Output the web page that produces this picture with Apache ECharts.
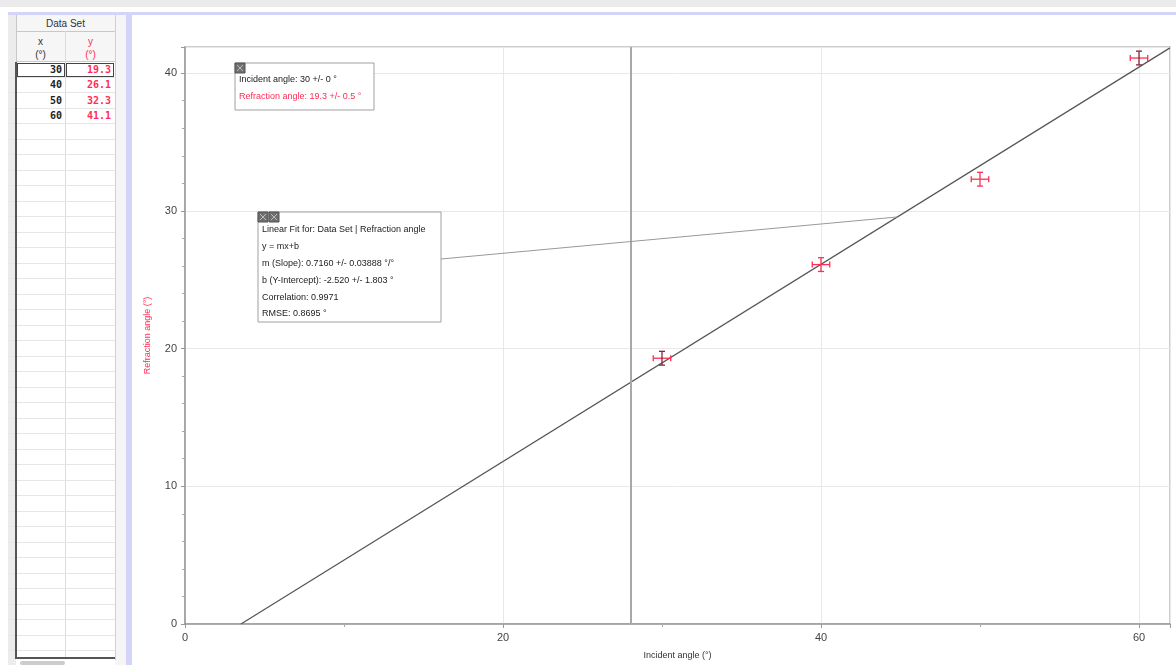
<!DOCTYPE html>
<html>
<head>
<meta charset="utf-8">
<script src="https://cdn.jsdelivr.net/npm/echarts@6/dist/echarts.min.js"></script>
<style>
  body { margin:0; width:1176px; height:665px; overflow:hidden; background:#fff; position:relative; font-family:"Liberation Sans", Arial, sans-serif; }
  .abs { position:absolute; }
  #chart { position:absolute; left:131px; top:15px; width:1045px; height:650px; }
  .cell { position:absolute; font:bold 10px "DejaVu Sans Mono", monospace; text-align:right; line-height:14px; }
  .hd { position:absolute; font-size:10px; text-align:center; color:#333; }
</style>
</head>
<body>
<div class="abs" style="left:0;top:0;width:1176px;height:7px;background:#ebebeb"></div>
<div class="abs" style="left:8px;top:12px;width:1168px;height:3px;background:#d4d4fa"></div>
<div class="abs" style="left:126px;top:12px;width:6px;height:653px;background:#d4d4fa"></div>
<div class="abs" style="left:8px;top:15px;width:8px;height:650px;background:#ececec"></div>
<div class="abs" style="left:115px;top:15px;width:11px;height:650px;background:#f5f5f5"></div>
<div class="abs" style="left:16px;top:15px;width:99px;height:47px;background:#f6f6f6"></div>
<div class="abs" style="left:16px;top:31px;width:99px;height:1px;background:#c8c8c8"></div>
<div class="abs" style="left:16px;top:61px;width:99px;height:1px;background:#c8c8c8"></div>
<div class="abs" style="left:65px;top:31px;width:1px;height:627px;background:#dcdcdc"></div>
<div class="abs" style="left:115px;top:15px;width:1px;height:645px;background:#d0d0d0"></div>
<div class="abs" style="left:16px;top:15px;width:1px;height:47px;background:#c8c8c8"></div>
<div id="rows"></div>
<div class="abs" style="left:15px;top:62px;width:2px;height:597px;background:#555"></div>
<div class="abs" style="left:15px;top:657px;width:100px;height:2px;background:#555"></div>
<div class="abs" style="left:20px;top:661px;width:45px;height:4px;background:#ccc;border-radius:2px"></div>
<div class="hd" style="left:16px;top:18px;width:99px">Data Set</div>
<div class="hd" style="left:16px;top:36px;width:49px">x</div>
<div class="hd" style="left:16px;top:49px;width:49px">(°)</div>
<div class="hd" style="left:66px;top:36px;width:49px;color:#ff2d55">y</div>
<div class="hd" style="left:66px;top:49px;width:49px;color:#ff2d55">(°)</div>
<div id="chart"></div>
<script>
// 数据
var xValues = [30, 40, 50, 60];
var yValues = [19.3, 26.1, 32.3, 41.1];
var xErr = [0.55, 0.55, 0.55, 0.55];
var yErr = [0.5, 0.5, 0.5, 0.5];
var darkBar = [1, 0, 0, 1];
var fitSlope = 0.7160;
var fitIntercept = -2.520;
var cursorX = 28.05;
var leaderX = 44.8;
var xMax = 61.95, yMax = 41.9;

var pink = '#ff2d55';

// 表格
var rowsHtml = '';
var rowH = 15.5;
for (var i = 0; i < 38; i++) {
    var rowTop = 62 + i * rowH;
    rowsHtml += '<div class="abs" style="left:8px;top:' + (rowTop + rowH - 1).toFixed(1) + 'px;width:107px;height:1px;background:#e6e6e6"></div>';
    if (i < xValues.length) {
        rowsHtml += '<div class="cell" style="left:18px;top:' + (rowTop + 0.5).toFixed(1) + 'px;width:44px;color:#222">' + xValues[i] + '</div>';
        rowsHtml += '<div class="cell" style="left:67px;top:' + (rowTop + 0.5).toFixed(1) + 'px;width:44px;color:' + pink + '">' + yValues[i].toFixed(1) + '</div>';
    }
}
rowsHtml += '<div class="abs" style="left:17px;top:63px;width:46px;height:12px;border:1px solid #444"></div>';
rowsHtml += '<div class="abs" style="left:66px;top:63px;width:46px;height:12px;border:1px solid #444"></div>';
document.getElementById('rows').innerHTML = rowsHtml;

var pts = [];
for (var i = 0; i < xValues.length; i++) {
    pts.push([xValues[i], yValues[i], xErr[i], yErr[i], darkBar[i]]);
}
var x0 = -fitIntercept / fitSlope;
var fitLine = [[x0, 0], [xMax, fitSlope * xMax + fitIntercept]];

function renderItem(params, api) {
    var x = api.value(0), y = api.value(1), ex = api.value(2), ey = api.value(3);
    var vcol = api.value(4) ? '#8a2536' : pink;
    var l = api.coord([x - ex, y]), r = api.coord([x + ex, y]);
    var t = api.coord([x, y + ey]), b = api.coord([x, y - ey]);
    var st = { stroke: pink, lineWidth: 1.3 };
    var sv = { stroke: vcol, lineWidth: 1.3 };
    return {
        type: 'group',
        children: [
            { type: 'line', shape: { x1: l[0], y1: l[1], x2: r[0], y2: r[1] }, style: st },
            { type: 'line', shape: { x1: l[0], y1: l[1] - 3, x2: l[0], y2: l[1] + 3 }, style: st },
            { type: 'line', shape: { x1: r[0], y1: r[1] - 3, x2: r[0], y2: r[1] + 3 }, style: st },
            { type: 'line', shape: { x1: t[0], y1: t[1], x2: b[0], y2: b[1] }, style: sv },
            { type: 'line', shape: { x1: t[0] - 3, y1: t[1], x2: t[0] + 3, y2: t[1] }, style: sv },
            { type: 'line', shape: { x1: b[0] - 3, y1: b[1], x2: b[0] + 3, y2: b[1] }, style: sv }
        ]
    };
}

var font9 = '9px "Liberation Sans", Arial, sans-serif';
function line(x, y, s, col) {
    return { type: 'text', left: x, top: y - 6, z: 102, style: { text: s, fill: col || '#222', font: font9 } };
}
function iconBox(x, y) {
    return [
        { type: 'rect', shape: { x: x, y: y, width: 10, height: 10 }, style: { fill: '#6e6e6e', stroke: '#555' }, z: 103 },
        { type: 'line', shape: { x1: x + 2, y1: y + 2, x2: x + 8, y2: y + 8 }, style: { stroke: '#bbb' }, z: 104 },
        { type: 'line', shape: { x1: x + 8, y1: y + 2, x2: x + 2, y2: y + 8 }, style: { stroke: '#bbb' }, z: 104 }
    ];
}

var chart = echarts.init(document.getElementById('chart'));
var option = {
    animation: false,
    grid: { left: 54, right: 6, top: 32, bottom: 38, show: true, borderColor: '#bdbdbd', borderWidth: 1.5 },
    xAxis: {
        type: 'value', min: 0, max: xMax, interval: 20,
        name: 'Incident angle (°)', nameLocation: 'middle', nameGap: 27,
        nameTextStyle: { color: '#333', fontSize: 9 },
        axisLine: { lineStyle: { color: '#999', width: 1.5 } },
        axisTick: { length: 4, lineStyle: { color: '#999' } },
        minorTick: { show: true, splitNumber: 2, length: 3, lineStyle: { color: '#aaa' } },
        splitLine: { lineStyle: { color: '#e8e8e8' } },
        axisLabel: { color: '#444', fontSize: 11, margin: 8, showMaxLabel: false,
            formatter: function (v) { return v % 20 === 0 ? v : ''; } }
    },
    yAxis: {
        type: 'value', min: 0, max: yMax, interval: 10,
        name: 'Refraction angle (°)', nameLocation: 'middle', nameGap: 33, nameRotate: 90,
        nameTextStyle: { color: pink, fontSize: 9 },
        axisLine: { show: true, lineStyle: { color: '#999', width: 1.5 } },
        axisTick: { show: true, length: 4, lineStyle: { color: '#999' } },
        minorTick: { show: true, splitNumber: 5, length: 3, lineStyle: { color: '#aaa' } },
        splitLine: { lineStyle: { color: '#e8e8e8' } },
        axisLabel: { color: '#444', fontSize: 11, margin: 8, showMaxLabel: false,
            formatter: function (v) { return v % 10 === 0 ? v : ''; } }
    },
    series: [
        {
            type: 'line', data: fitLine, symbol: 'none', silent: true,
            lineStyle: { color: '#555', width: 1.2 },
            markLine: {
                silent: true, symbol: 'none', label: { show: false },
                lineStyle: { color: '#a8a8a8', width: 2, type: 'solid' },
                data: [{ xAxis: cursorX }]
            }
        },
        { type: 'custom', renderItem: renderItem, data: pts, z: 5 }
    ]
};
chart.setOption(option);

var tip = chart.convertToPixel({ gridIndex: 0 }, [leaderX, fitSlope * leaderX + fitIntercept]);
var g = [
    { type: 'line', shape: { x1: 310, y1: 244, x2: tip[0], y2: tip[1] }, style: { stroke: '#999', lineWidth: 1 }, z: 100 },
    { type: 'rect', shape: { x: 104, y: 48, width: 139, height: 47 }, style: { fill: '#fff', stroke: '#a0a0a0', lineWidth: 1 }, z: 101 },
    line(108, 66, 'Incident angle: 30 +/- 0 °'),
    line(108, 83, 'Refraction angle: 19.3 +/- 0.5 °', pink),
    { type: 'rect', shape: { x: 127, y: 197, width: 183, height: 110 }, style: { fill: '#fff', stroke: '#a0a0a0', lineWidth: 1 }, z: 101 },
    line(131, 216, 'Linear Fit for: Data Set | Refraction angle'),
    line(131, 233, 'y = mx+b'),
    line(131, 250, 'm (Slope): 0.7160 +/- 0.03888 °/°'),
    line(131, 267, 'b (Y-Intercept): -2.520 +/- 1.803 °'),
    line(131, 284, 'Correlation: 0.9971'),
    line(131, 300, 'RMSE: 0.8695 °')
];
g = g.concat(iconBox(104, 48), iconBox(127, 197), iconBox(138, 197));
chart.setOption({ graphic: g });
</script>
</body>
</html>
